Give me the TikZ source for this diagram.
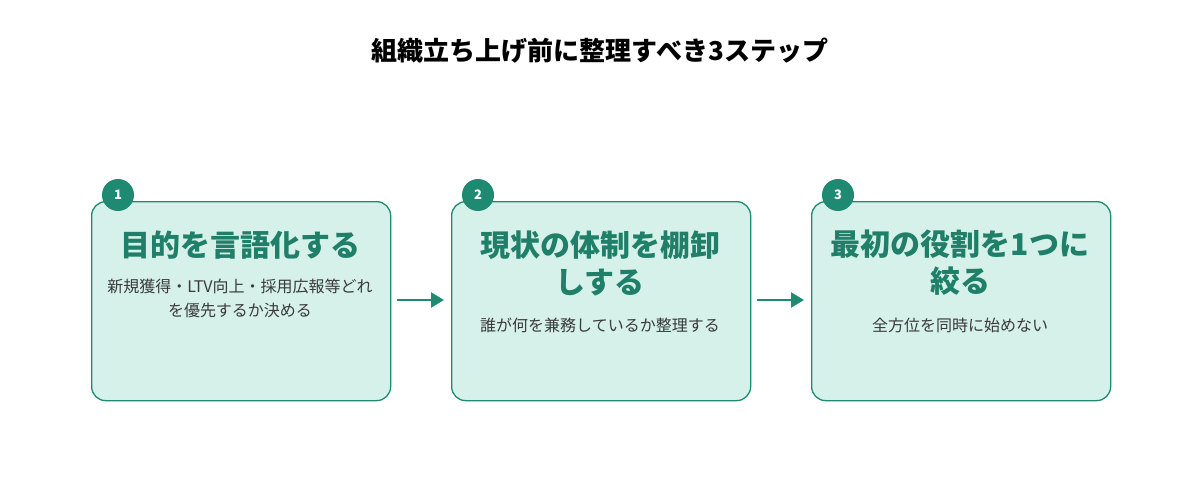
\documentclass[tikz,border=0pt]{standalone}
\usepackage{fontspec}
\setmainfont{Noto Sans CJK JP}
\usetikzlibrary{arrows.meta}
\definecolor{tealc}{HTML}{1E8A72}
\definecolor{tealt}{HTML}{1F7F69}
\definecolor{mint}{HTML}{D5F1E9}
\definecolor{bodyc}{HTML}{3A3A3A}
\begin{document}
\begin{tikzpicture}[x=1pt,y=-1pt,
 box/.style={draw=tealc,line width=1.3pt,fill=mint,rounded corners=14pt,minimum width=299pt,minimum height=199pt,anchor=north west},
 num/.style={circle,fill=tealc,text=white,minimum size=32pt,inner sep=0pt,font=\fontsize{13}{13}\bfseries},
 head/.style={text=tealt,font=\fontsize{30}{37}\selectfont\bfseries,align=center,text width=290pt},
 body/.style={text=bodyc,font=\fontsize{16}{24}\selectfont,align=center,text width=290pt},
 arr/.style={draw=tealc,line width=2.5pt,-{Triangle[length=13pt,width=15pt]}}]
\useasboundingbox[fill=white] (0,0) rectangle (1200,500);
\node[font=\fontsize{26}{26}\selectfont\bfseries] (title) at (600,51) {組織立ち上げ前に整理すべき3ステップ};
\node[box] (b1) at (91,201) {};
\node[box] (b2) at (451,201) {};
\node[box] (b3) at (811,201) {};
\node[num] (n1) at (118,195) {1};
\node[num] (n2) at (478,195) {2};
\node[num] (n3) at (838,195) {3};
\node[head] (h1) at (240,245) {目的を言語化する};
\node[body] (t1) at (240,298) {新規獲得・LTV向上・採用広報等どれ\\を優先するか決める};
\node[head] (h2) at (600,263) {現状の体制を棚卸\\しする};
\node[body] (t2) at (600,325) {誰が何を兼務しているか整理する};
\node[head] (h3) at (960,263) {最初の役割を1つに\\絞る};
\node[body] (t3) at (960,325) {全方位を同時に始めない};
\coordinate (a1) at (397,300); \coordinate (a1e) at (444,300);
\coordinate (a2) at (757,300); \coordinate (a2e) at (804,300);
\draw[arr] (a1) -- (a1e);
\draw[arr] (a2) -- (a2e);
\end{tikzpicture}
\end{document}
